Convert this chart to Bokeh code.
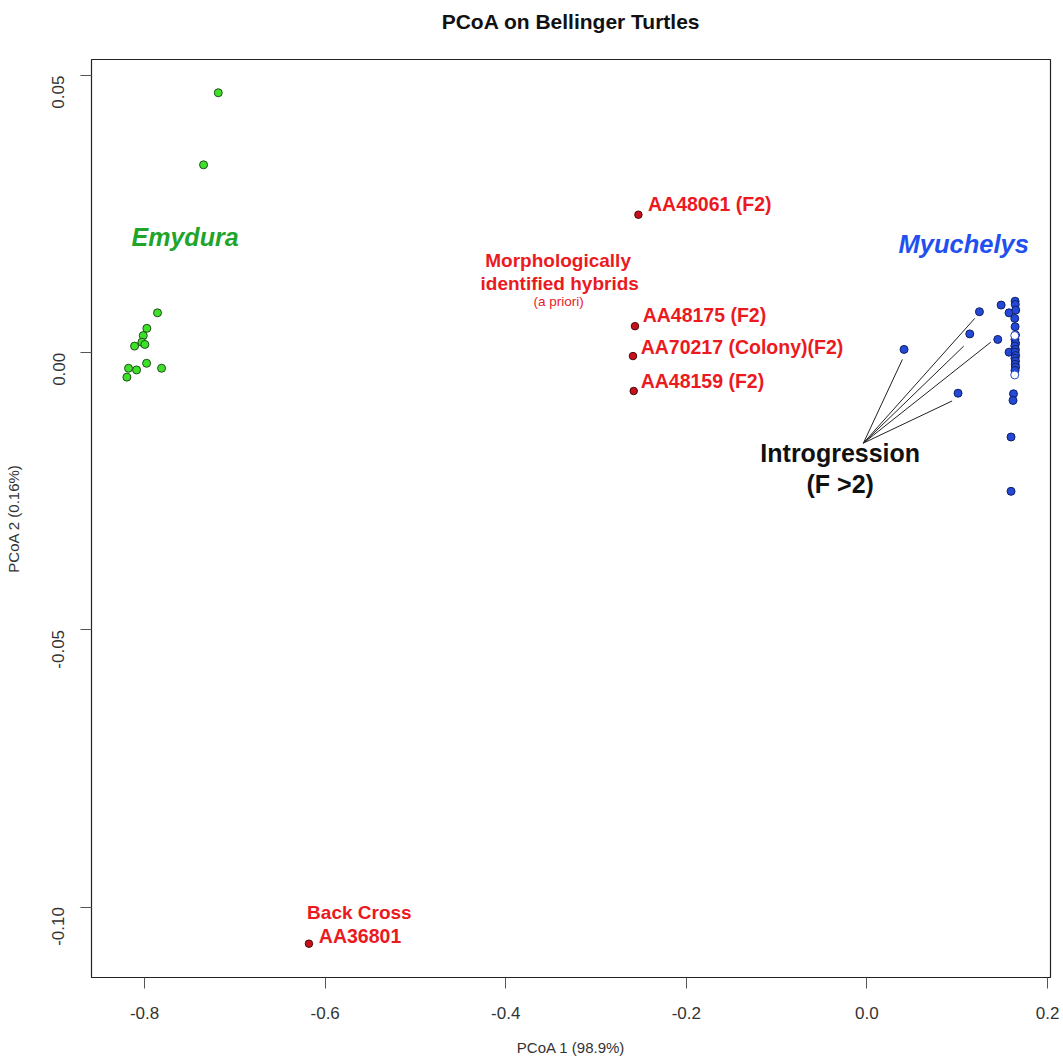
import math
from bokeh.plotting import figure
from bokeh.models import Range1d, FixedTicker, Title
from bokeh.core.properties import value
from bokeh.embed import file_html
from bokeh.resources import INLINE

# ---- data ----
emydura_x = [-0.7184, -0.7347, -0.7857, -0.7975, -0.8015, -0.8030, -0.7997, -0.8111,
             -0.7978, -0.7812, -0.8089, -0.8178, -0.8196]
emydura_y = [0.0469, 0.0339, 0.0072, 0.0044, 0.0031, 0.0019, 0.0015, 0.0012,
             -0.0019, -0.0028, -0.0031, -0.0028, -0.0044]

hybrid_x = [-0.2531, -0.2569, -0.2591, -0.2583, -0.6180]
hybrid_y = [0.0249, 0.0048, -0.0006, -0.0069, -0.1066]

myuchelys_x = [0.0411, 0.1246, 0.1139, 0.1486, 0.1449, 0.1009, 0.1574, 0.1641,
               0.1643, 0.1648, 0.1637, 0.1641, 0.1645, 0.1640, 0.1646, 0.1638,
               0.1644, 0.1574, 0.1641, 0.1647, 0.1639, 0.1645, 0.1642, 0.1646,
               0.1640, 0.1623, 0.1618, 0.1596, 0.1596]
myuchelys_y = [0.0006, 0.0074, 0.0034, 0.0086, 0.0024, -0.0073, 0.0072, 0.0093,
               0.0087, 0.0077, 0.0062, 0.0047, 0.0032, 0.0024, 0.0017, 0.0012,
               0.0006, 0.0001, 0.0001, -0.0005, -0.0010, -0.0015, -0.0021, -0.0026,
               -0.0032, -0.0074, -0.0086, -0.0152, -0.0250]
myuchelys_open_x = [0.1637, 0.1637]
myuchelys_open_y = [0.0031, -0.0040]

# introgression pointer lines: common origin and the five end points
intro_origin = (-0.0039, -0.0163)
intro_end_x = [0.0393, 0.1194, 0.1072, 0.1371, 0.0943]
intro_end_y = [-0.0012, 0.0062, 0.0012, 0.0019, -0.0087]

x_ticks = [-0.8, -0.6, -0.4, -0.2, 0.0, 0.2]
x_tick_labels = ["-0.8", "-0.6", "-0.4", "-0.2", "0.0", "0.2"]
y_ticks = [0.05, 0.0, -0.05, -0.10]
y_tick_labels = ["0.05", "0.00", "-0.05", "-0.10"]

FONT = "Liberation Sans"
TICKFONT = "Liberation Sans"

p = figure(width=1060, height=1058, output_backend="svg", toolbar_location=None,
           x_range=Range1d(-0.8588, 0.2033), y_range=Range1d(-0.1127, 0.0529),
           min_border_left=91, min_border_right=10, min_border_top=59, min_border_bottom=80)
p.xgrid.visible = False
p.ygrid.visible = False
p.outline_line_color = "#222222"
p.outline_line_width = 1.2
p.background_fill_color = "white"
p.border_fill_color = "white"

# spacer (closest to the frame), then the visible title above it
p.add_layout(Title(text=" ", text_font_size="10px", standoff=14, text_color="white"), "above")
p.add_layout(Title(text="PCoA on Bellinger Turtles", align="center", standoff=0,
                   text_font=FONT, text_font_size="21px", text_font_style="bold",
                   text_color="#111111"), "above")

for ax in (p.xaxis[0], p.yaxis[0]):
    ax.axis_line_color = None
    ax.major_tick_in = 0
    ax.major_tick_out = 11
    ax.major_tick_line_color = "#555555"
    ax.minor_tick_line_color = None
    ax.major_label_text_font = TICKFONT
    ax.major_label_text_font_size = "17px"
    ax.major_label_text_color = "#333333"
    ax.axis_label_text_font = TICKFONT
    ax.axis_label_text_font_size = "15px"
    ax.axis_label_text_font_style = "normal"
    ax.axis_label_text_color = "#333333"

p.xaxis[0].ticker = FixedTicker(ticks=x_ticks)
p.xaxis[0].major_label_overrides = dict(zip(x_ticks, x_tick_labels))
p.xaxis[0].major_label_standoff = 18
p.xaxis[0].axis_label = "PCoA 1 (98.9%)"
p.xaxis[0].axis_label_standoff = 17

p.yaxis[0].ticker = FixedTicker(ticks=y_ticks)
p.yaxis[0].major_label_overrides = dict(zip(y_ticks, y_tick_labels))
p.yaxis[0].major_label_orientation = math.pi / 2
p.yaxis[0].major_label_standoff = 22
p.yaxis[0].axis_label = "PCoA 2 (0.16%)"
p.yaxis[0].axis_label_standoff = 22

# introgression pointer lines
p.segment(x0=[intro_origin[0]] * len(intro_end_x), y0=[intro_origin[1]] * len(intro_end_y),
          x1=intro_end_x, y1=intro_end_y, line_color="#222222", line_width=1)

# points
p.scatter(emydura_x, emydura_y, size=8, fill_color="#3fe02a", line_color="#1f4f1a", line_width=1)
p.scatter(hybrid_x, hybrid_y, size=7.5, fill_color="#c8101c", line_color="#4a0a0a", line_width=1)
p.scatter(myuchelys_x, myuchelys_y, size=8, fill_color="#2549d6", line_color="#0d1f66", line_width=1)
p.scatter(myuchelys_open_x, myuchelys_open_y, size=8, fill_color="white", line_color="#2549d6", line_width=1)

# text annotations
RED = "#ea1a1f"
p.text(x=[-0.7552], y=[0.0209], text=["Emydura"], text_font=value(FONT), text_font_size="25px",
       text_font_style="bold italic", text_color="#1ea52a", text_align="center", text_baseline="middle")
p.text(x=[0.1072], y=[0.0197], text=["Myuchelys"], text_font=value(FONT), text_font_size="25.5px",
       text_font_style="bold italic", text_color="#2250f0", text_align="center", text_baseline="middle")
p.text(x=[-0.3420, -0.3403], y=[0.0167, 0.0125], text=["Morphologically", "identified hybrids"],
       text_font=value(FONT), text_font_size="19px", text_font_style="bold", text_color=RED,
       text_align="center", text_baseline="middle")
p.text(x=[-0.3414], y=[0.0093], text=["(a priori)"], text_font=value(FONT), text_font_size="13.5px",
       text_color=RED, text_align="center", text_baseline="middle")
p.text(x=[-0.2425, -0.2484, -0.2506, -0.2506, -0.6070],
       y=[0.0268, 0.0068, 0.0010, -0.0051, -0.1053],
       text=["AA48061 (F2)", "AA48175 (F2)", "AA70217 (Colony)(F2)", "AA48159 (F2)", "AA36801"],
       text_font=value(FONT), text_font_size="19.5px", text_font_style="bold", text_color=RED,
       text_align="left", text_baseline="middle")
p.text(x=[-0.5621], y=[-0.1010], text=["Back Cross"], text_font=value(FONT), text_font_size="19px",
       text_font_style="bold", text_color=RED, text_align="center", text_baseline="middle")
p.text(x=[-0.0296, -0.0296], y=[-0.0181, -0.0236], text=["Introgression", "(F >2)"],
       text_font=value(FONT), text_font_size="25px", text_font_style="bold", text_color="#111111",
       text_align="center", text_baseline="middle")

open("out.html", "w").write(file_html(p, INLINE))
